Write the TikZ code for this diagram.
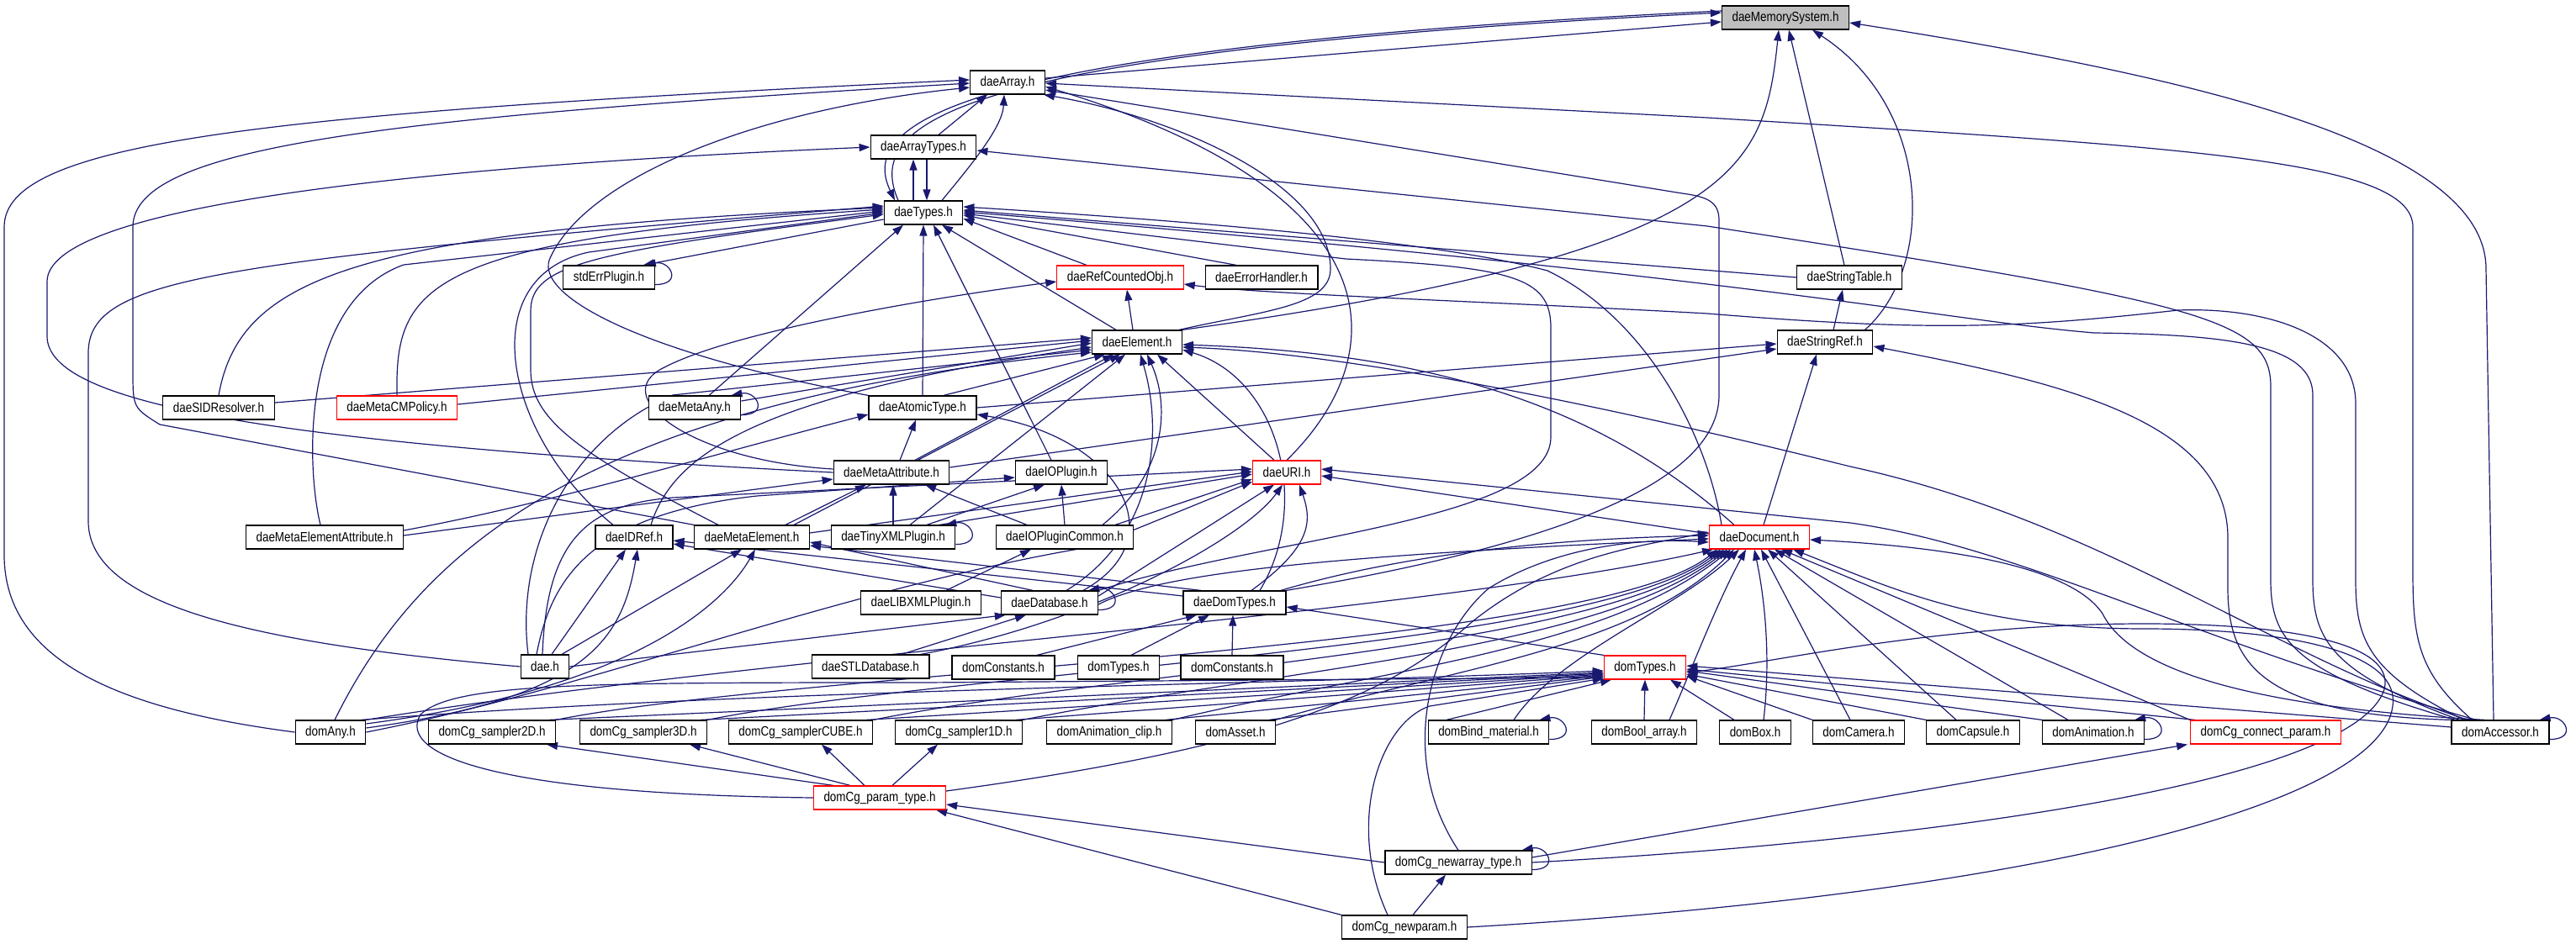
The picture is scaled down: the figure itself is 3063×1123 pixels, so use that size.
\documentclass[tikz,border=0pt]{standalone}
\usepackage{fontspec}
\setmainfont{Liberation Sans}[FakeStretch=0.84]
\usetikzlibrary{arrows.meta,backgrounds}
\definecolor{edgeblue}{HTML}{191970}
\definecolor{rootgray}{HTML}{BFBFBF}
\newcommand{\selfloop}[1]{\draw[dep] ([yshift=6pt]#1.south east) .. controls +(34,0) and +(30,-6) .. ([xshift=-12pt]#1.north east);}

\begin{document}
\begin{tikzpicture}[x=1pt, y=-1pt, >={Triangle[length=13pt,width=9pt]},
  hdr/.style={draw=black, line width=1.2pt, fill=white, minimum height=28pt, inner xsep=12pt, inner ysep=0pt, font=\fontsize{16pt}{19pt}\selectfont},
  hdrred/.style={hdr, draw=red},
  hdrroot/.style={hdr, fill=rootgray},
  dep/.style={->, draw=edgeblue, line width=1.2pt}]
  \useasboundingbox (0,0) rectangle (3063,1123);
  % top of the include chain
  \node[hdrroot] (ms) at (2123,21) {daeMemorySystem.h};
  \node[hdr] (arr) at (1198,98) {daeArray.h};
  \node[hdr] (arrt) at (1098,175) {daeArrayTypes.h};
  \node[hdr] (types) at (1098,253) {daeTypes.h};
  \node[hdr] (stderr) at (724,330) {stdErrPlugin.h};
  \node[hdrred] (refobj) at (1332,330) {daeRefCountedObj.h};
  \node[hdr] (errh) at (1500,330) {daeErrorHandler.h};
  \node[hdr] (strtab) at (2199,330) {daeStringTable.h};
  \node[hdr] (elem) at (1352,407) {daeElement.h};
  \node[hdr] (strref) at (2170,407) {daeStringRef.h};
  % dae headers
  \node[hdr] (sid) at (260,485) {daeSIDResolver.h};
  \node[hdrred] (cmpol) at (472,485) {daeMetaCMPolicy.h};
  \node[hdr] (metaany) at (826,485) {daeMetaAny.h};
  \node[hdr] (atomic) at (1097,485) {daeAtomicType.h};
  \node[hdr] (metaattr) at (1060,562) {daeMetaAttribute.h};
  \node[hdr] (ioplug) at (1262,562) {daeIOPlugin.h};
  \node[hdrred] (uri) at (1530,562) {daeURI.h};
  \node[hdr] (mea) at (386,639) {daeMetaElementAttribute.h};
  \node[hdr] (idref) at (754,639) {daeIDRef.h};
  \node[hdr] (metael) at (894,639) {daeMetaElement.h};
  \node[hdr] (tinyxml) at (1062,639) {daeTinyXMLPlugin.h};
  \node[hdr] (iopc) at (1266,639) {daeIOPluginCommon.h};
  \node[hdrred] (doc) at (2092,639) {daeDocument.h};
  \node[hdr] (libxml) at (1095,717) {daeLIBXMLPlugin.h};
  \node[hdr] (db) at (1248,717) {daeDatabase.h};
  \node[hdr] (ddt) at (1468,717) {daeDomTypes.h};
  \node[hdr] (dae) at (648,793) {dae.h};
  \node[hdr] (stl) at (1035,793) {daeSTLDatabase.h};
  \node[hdr] (constA) at (1193,794) {domConstants.h};
  \node[hdr] (typesA) at (1330,794) {domTypes.h};
  \node[hdr] (constB) at (1465,794) {domConstants.h};
  \node[hdrred] (domtyp) at (1956,794) {domTypes.h};
  % dom headers
  \node[hdr] (domany) at (393,871) {domAny.h};
  \node[hdr] (s2d) at (585,871) {domCg\_sampler2D.h};
  \node[hdr] (s3d) at (765,871) {domCg\_sampler3D.h};
  \node[hdr] (scube) at (952,871) {domCg\_samplerCUBE.h};
  \node[hdr] (s1d) at (1140,871) {domCg\_sampler1D.h};
  \node[hdr] (aclip) at (1319,871) {domAnimation\_clip.h};
  \node[hdr] (asset) at (1469,871) {domAsset.h};
  \node[hdr] (bind) at (1770,871) {domBind\_material.h};
  \node[hdr] (boolarr) at (1955,871) {domBool\_array.h};
  \node[hdr] (box) at (2087,871) {domBox.h};
  \node[hdr] (camera) at (2210,871) {domCamera.h};
  \node[hdr] (capsule) at (2346,871) {domCapsule.h};
  \node[hdr] (anim) at (2489,871) {domAnimation.h};
  \node[hdrred] (connp) at (2694,871) {domCg\_connect\_param.h};
  \node[hdr] (accessor) at (2973,871) {domAccessor.h};
  \node[hdrred] (ptype) at (1046,949) {domCg\_param\_type.h};
  \node[hdr] (newarr) at (1734,1026) {domCg\_newarray\_type.h};
  \node[hdr] (newparam) at (1670,1103) {domCg\_newparam.h};
  \begin{scope}[on background layer]
    \fill[white] (0,0) rectangle (3063,1123);
    % into daeMemorySystem.h
    \draw[dep] ([yshift=5pt]arr.east) -- ([yshift=-5pt]ms.west);
    \draw[dep] ([xshift=-30pt]types.north) .. controls (1030,150) and (1110,62) .. ([yshift=6pt]ms.west);
    \draw[dep] ([yshift=8pt]ms.west) .. controls (1115,58) and (1022,150) .. ([xshift=-34pt]types.north);
    \draw[dep] (elem.north east) .. controls (2070,300) and (2098,200) .. ([xshift=-8pt]ms.south);
    \draw[dep] ([xshift=-6pt]strtab.north) -- ([xshift=4pt]ms.south);
    \draw[dep] ([xshift=-10pt]strref.north east) .. controls (2300,320) and (2300,130) .. ([xshift=32pt]ms.south);
    \draw[dep] ([xshift=-8pt]accessor.north) -- (2956,320) .. controls (2956,170) and (2600,90) .. ([yshift=-6pt]ms.east);
    % into daeArray.h
    \draw[dep] ([xshift=18pt]arrt.north) -- ([xshift=-24pt]arr.south);
    \draw[dep] ([xshift=22pt]types.north) .. controls (1160,190) and (1192,150) .. ([xshift=-4pt]arr.south);
    \draw[dep] ([xshift=25pt]accessor.north west) .. controls (2875,800) and (2869,760) .. (2869,680) -- (2869,270) .. controls (2869,190) and (2600,175) .. (2030,140) -- ([yshift=-1pt]arr.east);
    \draw[dep] (ddt.north east) .. controls (1900,640) and (2044,560) .. (2044,470) -- (2044,262) .. controls (2044,240) and (2030,234) .. (2000,230) -- ([yshift=-9pt]arr.east);
    \draw[dep] ([xshift=-4pt]elem.north east) .. controls (1500,370) and (1582,365) .. (1582,320) .. controls (1582,220) and (1400,140) .. ([xshift=-2pt]arr.south east);
    \draw[dep] (uri.north) .. controls (1660,420) and (1660,230) .. ([yshift=-5pt]arr.east);
    \draw[dep] (domany.west) .. controls (150,845) and (5,790) .. (5,660) -- (5,270) .. controls (5,170) and (300,135) .. ([yshift=3pt]arr.west);
    \draw[dep] (metael.north west) -- (190,505) .. controls (158,485) .. (158,440) -- (158,270) .. controls (158,175) and (450,140) .. ([yshift=-1pt]arr.west);
    \draw[dep] (atomic.north west) .. controls (760,420) and (630,350) .. (655,305) .. controls (700,210) and (900,130) .. ([yshift=-6pt]arr.west);
    % into daeArrayTypes.h
    \draw[dep] ([xshift=-12pt]types.north) -- ([xshift=-12pt]arrt.south);
    \draw[dep] ([xshift=4pt]arrt.south) -- ([xshift=4pt]types.north);
    \draw[dep] (metaattr.west) .. controls (320,528) and (56,480) .. (56,400) -- (56,335) .. controls (56,250) and (450,200) .. (arrt.west);
    \draw[dep] ([xshift=5pt]accessor.north west) .. controls (2725,800) and (2700,760) .. (2700,690) -- (2700,460) .. controls (2700,380) and (2620,360) .. (2030,269) -- ([yshift=-4pt]arrt.east);
    % into daeTypes.h
    \draw[dep] ([xshift=-40pt]refobj.north) -- ([yshift=-7pt]types.east);
    \draw[dep] ([xshift=-30pt]errh.north) -- ([yshift=-3pt]types.east);
    \draw[dep] (strtab.west) -- ([yshift=3pt]types.east);
    \draw[dep] ([xshift=-25pt]elem.north) -- ([xshift=22pt]types.south);
    \draw[dep] (atomic.north) -- (types.south);
    \draw[dep] ([xshift=-12pt]ioplug.north) -- ([xshift=12pt]types.south);
    \draw[dep] ([xshift=17pt]metaany.north) -- ([xshift=-24pt]types.south);
    \draw[dep] (sid.north) .. controls (285,330) and (420,275) .. ([yshift=6pt]types.west);
    \draw[dep] (cmpol.north) .. controls (470,340) and (500,285) .. ([yshift=4pt]types.west);
    \draw[dep] ([xshift=-5pt]mea.north) .. controls (365,560) and (355,360) .. (480,315) -- ([yshift=2pt]types.west);
    \draw[dep] (dae.west) .. controls (300,765) and (105,720) .. (105,620) -- (105,420) .. controls (105,330) and (250,312) .. ([yshift=8pt]types.west);
    \draw[dep] ([xshift=-25pt]idref.north) .. controls (600,520) and (560,330) .. (700,300) -- (types.west);
    \draw[dep] ([xshift=-40pt]metael.north) .. controls (690,540) and (631,500) .. (631,440) -- (631,370) .. controls (631,315) and (700,300) .. ([yshift=-2pt]types.west);
    \draw[dep] ([xshift=-45pt]doc.north) .. controls (2030,520) and (1960,380) .. (1840,322) .. controls (1700,285) and (1400,262) .. ([yshift=7pt]types.east);
    \draw[dep] ([xshift=10pt]accessor.north west) .. controls (2770,800) and (2750,760) .. (2750,690) -- (2750,470) .. controls (2750,410) and (2650,398) .. (2490,396) .. controls (2300,380) and (2100,330) .. ([yshift=1pt]types.east);
    \draw[dep] (db.north east) .. controls (1500,640) and (1844,620) .. (1844,520) -- (1844,390) .. controls (1844,330) and (1800,318) .. (1600,308) -- ([yshift=-1pt]types.east);
    \draw[dep] ([yshift=-8pt]types.west) -- ([xshift=-14pt]stderr.north east);
    \selfloop{stderr}
    % into daeRefCountedObj.h
    \draw[dep] ([xshift=-5pt]elem.north) -- ([xshift=8pt]refobj.south);
    \draw[dep] ([yshift=4pt]metaattr.west) .. controls (820,548) and (720,470) .. (790,437) .. controls (870,395) and (1100,355) .. ([yshift=-5pt]refobj.west);
    \draw[dep] ([xshift=15pt]accessor.north west) .. controls (2815,800) and (2801,760) .. (2801,690) -- (2801,480) .. controls (2801,400) and (2700,365) .. (2590,369) .. controls (2400,390) and (2300,395) .. (2030,373) .. controls (1800,360) and (1500,350) .. ([yshift=-8pt]refobj.east);
    % into daeStringTable.h and daeStringRef.h
    \draw[dep] ([xshift=10pt]strref.north) -- ([xshift=-8pt]strtab.south);
    \draw[dep] (atomic.east) -- ([yshift=-2pt]strref.west);
    \draw[dep] ([yshift=6pt]metaattr.east) -- ([yshift=-8pt]strref.west);
    \draw[dep] ([xshift=5pt]doc.north) -- ([xshift=-10pt]strref.south);
    \draw[dep] (accessor.north west) .. controls (2690,850) and (2649,790) .. (2649,700) -- (2649,640) .. controls (2649,500) and (2450,455) .. ([yshift=-5pt]strref.east);
    % into daeElement.h
    \draw[dep] ([yshift=6pt]sid.east) -- ([yshift=5pt]elem.west);
    \draw[dep] ([yshift=4pt]cmpol.east) -- ([yshift=2pt]elem.west);
    \draw[dep] ([yshift=8pt]metaany.east) -- ([yshift=-1pt]elem.west);
    \draw[dep] ([xshift=25pt]atomic.north) -- ([xshift=-38pt]elem.south);
    \draw[dep] ([xshift=28pt]metaattr.north) -- ([xshift=-28pt]elem.south);
    \draw[dep] ([xshift=20pt]idref.north) .. controls (800,540) and (900,470) .. ([yshift=-6pt]elem.west);
    \draw[dep] ([xshift=50pt]metael.north) -- ([xshift=-20pt]elem.south);
    \draw[dep] ([xshift=20pt]tinyxml.north) -- ([xshift=-14pt]elem.south);
    \draw[dep] ([xshift=45pt]iopc.north) .. controls (1390,560) and (1390,480) .. ([xshift=12pt]elem.south);
    \draw[dep] ([xshift=-20pt]dae.north) .. controls (612,650) and (680,520) .. (800,470) -- ([yshift=-9pt]elem.west);
    \draw[dep] ([xshift=-15pt]uri.north) -- ([xshift=24pt]elem.south);
    \draw[dep] ([xshift=20pt]db.north) .. controls (1370,640) and (1385,520) .. ([xshift=4pt]elem.south);
    \draw[dep] ([xshift=30pt]ddt.north) .. controls (1560,600) and (1520,450) .. ([yshift=-9pt]elem.east);
    \draw[dep] ([xshift=-30pt]doc.north) .. controls (1900,480) and (1700,420) .. ([yshift=-3pt]elem.east);
    \draw[dep] ([xshift=20pt]accessor.north west) .. controls (2700,780) and (2500,620) .. (2200,555) .. controls (1900,480) and (1600,420) .. ([yshift=-6pt]elem.east);
    \draw[dep] ([xshift=5pt]domany.north) .. controls (500,650) and (700,480) .. ([yshift=-12pt]elem.west);
    % into daeAtomicType.h
    \draw[dep] ([xshift=10pt]metaattr.north) -- ([xshift=-8pt]atomic.south);
    \draw[dep] ([xshift=40pt]db.north) .. controls (1400,640) and (1330,520) .. ([yshift=-8pt]atomic.east);
    \draw[dep] ([yshift=8pt]mea.east) .. controls (650,600) and (850,540) .. ([yshift=-8pt]atomic.west);
    % into daeMetaAttribute.h
    \draw[dep] ([yshift=2pt]mea.east) -- ([yshift=-8pt]metaattr.west);
    \draw[dep] ([xshift=40pt]metael.north) -- ([xshift=-30pt]metaattr.south);
    \draw[dep] (tinyxml.north) -- ([xshift=2pt]metaattr.south);
    \draw[dep] ([xshift=-45pt]iopc.north) -- ([xshift=40pt]metaattr.south);
    % into daeIOPlugin.h
    \draw[dep] ([xshift=40pt]tinyxml.north) -- ([xshift=-20pt]ioplug.south);
    \draw[dep] (iopc.north) -- (ioplug.south);
    \draw[dep] ([xshift=-10pt]dae.north) .. controls (655,690) and (700,612) .. (900,590) -- ([yshift=-6pt]ioplug.west);
    % into daeURI.h
    \draw[dep] ([xshift=55pt]tinyxml.north) -- ([yshift=-2pt]uri.west);
    \draw[dep] ([xshift=60pt]iopc.north) -- ([yshift=-8pt]uri.west);
    \draw[dep] ([yshift=8pt]db.east) -- ([xshift=-15pt]uri.south);
    \draw[dep] ([xshift=20pt]ddt.north) .. controls (1560,650) and (1560,620) .. ([xshift=15pt]uri.south);
    \draw[dep] ([yshift=4pt]doc.west) -- ([yshift=-4pt]uri.east);
    \draw[dep] ([xshift=30pt]accessor.north west) .. controls (2600,760) and (2400,650) .. (2200,622) -- ([yshift=4pt]uri.east);
    \draw[dep] ([xshift=-3pt]dae.north) .. controls (650,640) and (700,600) .. (800,592) -- ([yshift=4pt]uri.west);
    \draw[dep] ([yshift=5pt]metael.east) -- ([yshift=1pt]uri.west);
    \draw[dep] ([xshift=60pt]stl.north) .. controls (1300,740) and (1480,640) .. ([xshift=-5pt]uri.south);
    \draw[dep] (domany.east) .. controls (700,820) and (1000,700) .. (1300,650) -- ([yshift=-11pt]uri.west);
    % into daeIDRef.h and daeMetaElement.h
    \draw[dep] ([xshift=8pt]dae.north) -- ([xshift=-10pt]idref.south);
    \draw[dep] ([yshift=5pt]domany.east) .. controls (700,830) and (740,760) .. ([xshift=4pt]idref.south);
    \draw[dep] ([yshift=6pt]db.west) -- ([yshift=-8pt]idref.east);
    \draw[dep] ([yshift=8pt]ddt.west) -- ([yshift=-4pt]idref.east);
    \draw[dep] ([xshift=20pt]dae.north) -- ([xshift=-12pt]metael.south);
    \draw[dep] ([yshift=10pt]domany.east) .. controls (750,820) and (860,720) .. ([xshift=4pt]metael.south);
    \draw[dep] ([xshift=-20pt]db.north) -- ([yshift=-6pt]metael.east);
    \draw[dep] ([xshift=-40pt]ddt.north) -- ([yshift=-10pt]metael.east);
    % plugins and databases
    \selfloop{metaany}
    \selfloop{tinyxml}
    \selfloop{db}
    \draw[dep] ([xshift=30pt]libxml.north) -- ([xshift=-40pt]iopc.south);
    \draw[dep] ([xshift=37pt]stl.north) -- ([xshift=-28pt]db.south);
    \draw[dep] (dae.east) -- ([xshift=6pt]db.south west);
    % into daeDomTypes.h
    \draw[dep] ([xshift=40pt]constA.north) -- ([xshift=-45pt]ddt.south);
    \draw[dep] ([xshift=15pt]typesA.north) -- ([xshift=-30pt]ddt.south);
    \draw[dep] (constB.north) -- ([xshift=-2pt]ddt.south);
    \draw[dep] (domtyp.north west) -- ([yshift=-5pt]ddt.east);
    % into daeDocument.h
    \draw[dep] ([yshift=-2pt]db.east) .. controls (1380,680) and (1600,660) .. ([yshift=-2pt]doc.west);
    \draw[dep] ([xshift=55pt]ddt.north) .. controls (1700,650) and (1900,640) .. ([yshift=2pt]doc.west);
    \draw[dep] (domany.north east) .. controls (900,780) and (1700,730) .. ([xshift=-55pt]doc.south);
    \draw[dep] (s2d.north east) .. controls +(300,-60) and +(-150,120) .. ([xshift=-50pt]doc.south);
    \draw[dep] (s3d.north east) .. controls +(300,-60) and +(-150,120) .. ([xshift=-46pt]doc.south);
    \draw[dep] (scube.north east) .. controls +(300,-60) and +(-150,120) .. ([xshift=-42pt]doc.south);
    \draw[dep] (s1d.north east) .. controls +(300,-60) and +(-150,120) .. ([xshift=-38pt]doc.south);
    \draw[dep] (aclip.north east) .. controls +(250,-60) and +(-150,120) .. ([xshift=-34pt]doc.south);
    \draw[dep] (asset.north east) .. controls +(200,-60) and +(-120,120) .. ([xshift=-30pt]doc.south);
    \draw[dep] ([xshift=30pt]bind.north) .. controls (1850,780) and (2000,720) .. ([xshift=-24pt]doc.south);
    \draw[dep] ([xshift=30pt]boolarr.north) .. controls (2010,800) and (2040,720) .. ([xshift=-16pt]doc.south);
    \draw[dep] ([xshift=10pt]box.north) .. controls (2105,790) and (2100,720) .. ([xshift=-6pt]doc.south);
    \draw[dep] ([xshift=-10pt]camera.north) -- ([xshift=2pt]doc.south);
    \draw[dep] ([xshift=-20pt]capsule.north) -- ([xshift=10pt]doc.south);
    \draw[dep] ([xshift=-30pt]anim.north) -- ([xshift=18pt]doc.south);
    \draw[dep] (connp.north west) -- ([xshift=26pt]doc.south);
    \draw[dep] ([xshift=40pt]accessor.north west) .. controls (2650,840) and (2530,790) .. (2500,730) .. controls (2460,670) and (2300,650) .. ([yshift=-3pt]doc.east);
    \draw[dep] (newarr.north) .. controls (1660,900) and (1700,760) .. (1770,700) .. controls (1850,650) and (1950,640) .. ([yshift=-6pt]doc.west);
    \draw[dep] (newparam.east) .. controls (2400,1065) and (2830,960) .. (2845,840) .. controls (2855,770) and (2700,748) .. (2550,748) .. controls (2350,748) and (2250,700) .. ([xshift=40pt]doc.south);
    \draw[dep] ([yshift=8pt]ptype.east) .. controls (1500,890) and (1650,830) .. (1750,740) .. controls (1850,660) and (1950,650) .. ([yshift=6pt]doc.west);
    % into domTypes.h
    \draw[dep] ([xshift=-6pt]domany.north east) .. controls (900,820) and (1500,815) .. ([yshift=-4pt]domtyp.west);
    \draw[dep] ([xshift=-8pt]s2d.north east) -- ([yshift=-6pt]domtyp.west);
    \draw[dep] ([xshift=-8pt]s3d.north east) -- ([yshift=-7pt]domtyp.west);
    \draw[dep] ([xshift=-8pt]scube.north east) -- ([yshift=-8pt]domtyp.west);
    \draw[dep] ([xshift=-8pt]s1d.north east) -- ([yshift=-9pt]domtyp.west);
    \draw[dep] ([xshift=-8pt]aclip.north east) -- ([yshift=-10pt]domtyp.west);
    \draw[dep] ([xshift=-8pt]asset.north east) -- ([yshift=-11pt]domtyp.west);
    \draw[dep] ([xshift=-50pt]bind.north) -- ([xshift=-40pt]domtyp.south);
    \draw[dep] (boolarr.north) -- (domtyp.south);
    \draw[dep] ([xshift=-25pt]box.north) -- ([xshift=30pt]domtyp.south);
    \draw[dep] (camera.north west) -- ([yshift=-10pt]domtyp.east);
    \draw[dep] (capsule.north west) -- ([yshift=-8pt]domtyp.east);
    \draw[dep] (anim.north west) -- ([yshift=-4pt]domtyp.east);
    \draw[dep] ([xshift=6pt]connp.north west) -- ([yshift=-2pt]domtyp.east);
    \draw[dep] ([yshift=6pt]accessor.west) -- ([yshift=2pt]domtyp.east);
    \draw[dep] (ptype.west) .. controls (600,945) and (470,900) .. (500,850) .. controls (540,812) and (700,812) .. (1100,812) -- ([yshift=-12pt]domtyp.west);
    \draw[dep] (newarr.east) .. controls (2300,1000) and (2800,930) .. (2835,820) .. controls (2850,760) and (2700,742) .. (2550,742) .. controls (2300,742) and (2100,790) .. ([yshift=-6pt]domtyp.east);
    \draw[dep] ([xshift=-20pt]newparam.north) .. controls (1600,980) and (1640,860) .. (1700,840) -- ([yshift=-13pt]domtyp.west);
    % samplers and param types
    \draw[dep] ([xshift=-55pt]ptype.north) -- ([xshift=65pt]s2d.south);
    \draw[dep] ([xshift=-35pt]ptype.north) -- ([xshift=55pt]s3d.south);
    \draw[dep] ([xshift=-18pt]ptype.north) -- ([xshift=25pt]scube.south);
    \draw[dep] ([xshift=15pt]ptype.north) -- ([xshift=-25pt]s1d.south);
    \draw[dep] (newarr.west) -- ([yshift=-8pt]ptype.east);
    \draw[dep] (newparam.north west) -- ([xshift=-12pt]ptype.south east);
    \draw[dep] ([xshift=10pt]newparam.north) -- ([xshift=-15pt]newarr.south);
    \draw[dep] ([yshift=6pt]newarr.east) -- ([xshift=-3pt]connp.south west);
    \selfloop{bind}
    \selfloop{anim}
    \selfloop{accessor}
    \selfloop{newarr}
  \end{scope}
\end{tikzpicture}
\end{document}
